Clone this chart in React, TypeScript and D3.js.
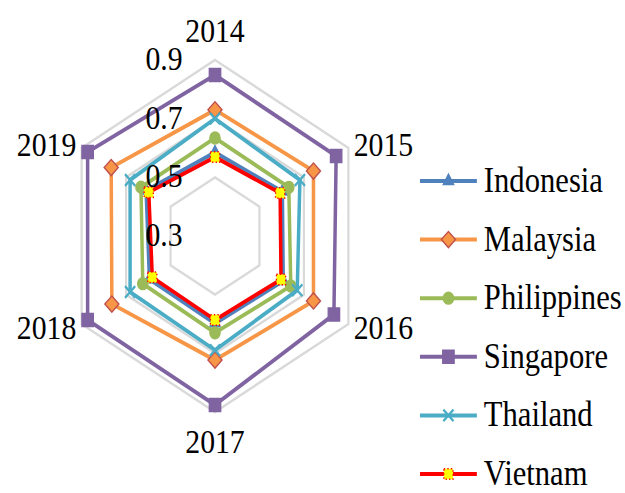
import { useEffect, useRef } from "react";
import * as d3 from "d3";

const years = ["2014", "2015", "2016", "2017", "2018", "2019"];
const countries = ["Indonesia", "Malaysia", "Philippines", "Singapore", "Thailand", "Vietnam"];

const indonesia = [0.585, 0.603, 0.607, 0.598, 0.595, 0.61];
const malaysia = [0.73, 0.743, 0.743, 0.723, 0.764, 0.767];
const philippines = [0.634, 0.632, 0.641, 0.63, 0.625, 0.633];
const singapore = [0.849, 0.845, 0.835, 0.876, 0.873, 0.873];
const thailand = [0.7, 0.682, 0.67, 0.689, 0.682, 0.682];
const vietnam = [0.569, 0.593, 0.597, 0.586, 0.582, 0.598];

const tickValues = [0.3, 0.5, 0.7, 0.9];
const gridValues = [0.5, 0.7, 0.9];

const seriesValues = [indonesia, malaysia, philippines, singapore, thailand, vietnam];

// line colour, marker fill, marker stroke, marker kind
const seriesStyles = [
    { line: "#4f81bd", fill: "#4f81bd", stroke: "#4f81bd", marker: "triangle" },
    { line: "#f79646", fill: "#f79646", stroke: "#c0504d", marker: "diamond" },
    { line: "#9bbb59", fill: "#9bbb59", stroke: "#9bbb59", marker: "circle" },
    { line: "#8064a2", fill: "#8064a2", stroke: "#8064a2", marker: "square" },
    { line: "#4bacc6", fill: "none", stroke: "#4bacc6", marker: "times" },
    { line: "#ff0000", fill: "#ffff00", stroke: "#ff0000", marker: "star" },
];

const fontFamily = "'Liberation Serif', 'Times New Roman', serif";

function drawMarker(group, style) {
    let symbolType = d3.symbolSquare;
    let size = 170;
    let rotate = 0;
    if (style.marker === "triangle") {
        symbolType = d3.symbolTriangle;
        size = 60;
    } else if (style.marker === "diamond") {
        symbolType = d3.symbolSquare;
        size = 130;
        rotate = 45;
    } else if (style.marker === "circle") {
        symbolType = d3.symbolCircle;
        size = 110;
    } else if (style.marker === "times") {
        symbolType = d3.symbolTimes;
        size = 90;
    } else if (style.marker === "star") {
        symbolType = d3.symbolSquare;
        size = 110;
    }
    const path = group
        .append("path")
        .attr("d", d3.symbol().type(symbolType).size(size)())
        .attr("transform", `rotate(${rotate})`);
    if (style.marker === "times") {
        path.attr("fill", "none").attr("stroke", style.stroke).attr("stroke-width", 2.5);
    } else if (style.marker === "star") {
        path.attr("fill", style.fill)
            .attr("stroke", style.stroke)
            .attr("stroke-width", 1.5)
            .attr("stroke-dasharray", "1.5,2.5");
    } else {
        path.attr("fill", style.fill).attr("stroke", style.stroke).attr("stroke-width", 1.5);
    }
}

export default function App() {
    const svgRef = useRef(null);

    useEffect(() => {
        const svg = d3.select(svgRef.current);
        svg.selectAll("*").remove();

        const squeeze = 0.875;
        const cx = 215 / squeeze;
        const cy = 236;
        const radius = 176;
        const step = (2 * Math.PI) / years.length;

        const rScale = d3.scaleLinear().domain([0.3, 0.9]).range([0, radius]);

        const radial = d3
            .lineRadial()
            .angle((d, i) => i * step)
            .radius((d) => rScale(d))
            .curve(d3.curveLinearClosed);

        const root = svg.append("g").attr("transform", `scale(${squeeze},1)`);
        const chart = root.append("g").attr("transform", `translate(${cx},${cy})`);

        // grid hexagons
        chart
            .selectAll(".grid")
            .data(gridValues)
            .join("path")
            .attr("class", "grid")
            .attr("d", (v) => radial(years.map(() => v)))
            .attr("fill", "none")
            .attr("stroke", "#d9d9d9")
            .attr("stroke-width", 2.5);

        // series
        seriesValues.forEach((values, si) => {
            const style = seriesStyles[si];
            chart
                .append("path")
                .attr("d", radial(values))
                .attr("fill", "none")
                .attr("stroke", style.line)
                .attr("stroke-width", 4)
                .attr("stroke-linejoin", "round");
            values.forEach((v, i) => {
                const a = i * step;
                const g = chart
                    .append("g")
                    .attr(
                        "transform",
                        `translate(${Math.sin(a) * rScale(v)},${-Math.cos(a) * rScale(v)})`
                    );
                drawMarker(g, style);
            });
        });

        // value ticks
        chart
            .selectAll(".tick-label")
            .data(tickValues)
            .join("text")
            .attr("class", "tick-label")
            .attr("x", -37)
            .attr("y", (v) => -rScale(v) + 10)
            .attr("text-anchor", "end")
            .attr("font-family", fontFamily)
            .attr("font-size", 34)
            .text((v) => d3.format(".1f")(v));

        // category labels
        years.forEach((year, i) => {
            const a = i * step;
            const s = Math.sin(a);
            const c = Math.cos(a);
            const vertical = Math.abs(c) > 0.9;
            const lr = radius + (vertical ? 30 : 7);
            chart
                .append("text")
                .attr("x", vertical ? 0 : s * lr)
                .attr("y", -c * lr + 11.5)
                .attr("text-anchor", vertical ? "middle" : s > 0 ? "start" : "end")
                .attr("font-family", fontFamily)
                .attr("font-size", 34)
                .text(year);
        });

        // legend
        const legend = root.append("g").attr("transform", `translate(${420 / squeeze},181)`);
        countries.forEach((name, i) => {
            const style = seriesStyles[i];
            const item = legend.append("g").attr("transform", `translate(0,${i * 58.6})`);
            item.append("line")
                .attr("x1", 0)
                .attr("x2", 65)
                .attr("stroke", style.line)
                .attr("stroke-width", 4);
            const m = item.append("g").attr("transform", "translate(32.5,0)");
            drawMarker(m, style);
            item.append("text")
                .attr("x", 73)
                .attr("y", 11)
                .attr("font-family", fontFamily)
                .attr("font-size", 35)
                .text(name);
        });
    }, []);

    return (
        <svg
            ref={svgRef}
            width={625}
            height={493}
            style={{ position: "absolute", left: 0, top: 0, background: "#fff" }}
        />
    );
}
